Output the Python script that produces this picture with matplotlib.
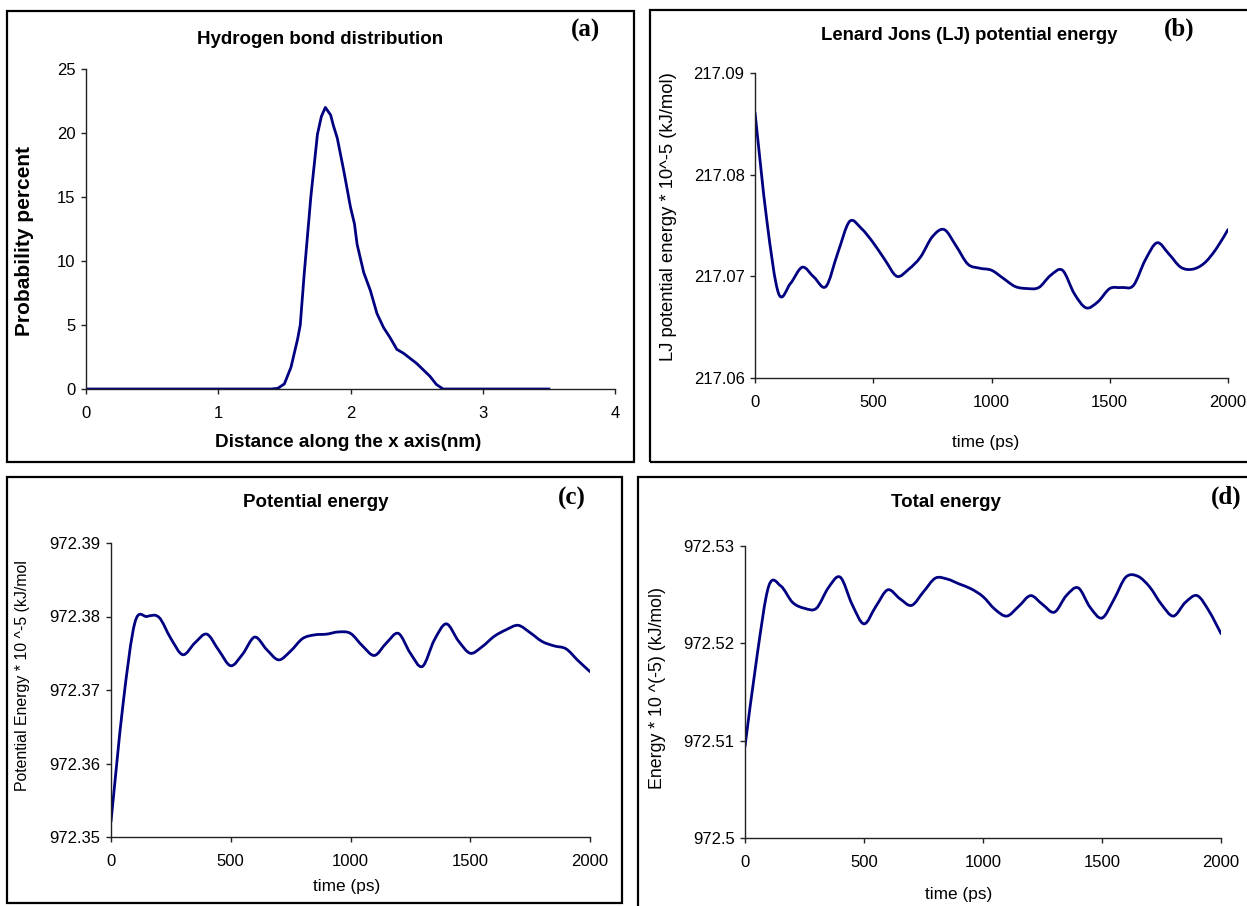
import numpy as np
import matplotlib
matplotlib.use('Agg')
import matplotlib.pyplot as plt
from matplotlib.patches import Rectangle, PathPatch
from matplotlib.path import Path

plt.rcParams['font.family'] = ['Liberation Sans', 'DejaVu Sans']

# (a) hydrogen bond distribution
dist_x = [0, 0.5, 1.0, 1.4, 1.45, 1.5, 1.55, 1.6, 1.62, 1.65, 1.7, 1.75, 1.78, 1.81, 1.85,
          1.87, 1.9, 1.95, 2.0, 2.03, 2.05, 2.1, 2.15, 2.2, 2.25, 2.3, 2.35, 2.4, 2.45,
          2.5, 2.55, 2.6, 2.65, 2.7, 2.75, 3.0, 3.5]
dist_p = [0, 0, 0, 0, 0.05, 0.4, 1.7, 3.9, 5.0, 9.0, 15.0, 19.9, 21.3, 22.0, 21.4,
          20.6, 19.6, 17.0, 14.2, 12.9, 11.3, 9.1, 7.7, 5.9, 4.8, 4.0, 3.1, 2.8, 2.4,
          2.0, 1.5, 1.0, 0.35, 0, 0, 0, 0]

# time axis for (b), (c), (d)
t = list(range(0, 2001, 50))

lj = [217.0861, 217.0755, 217.0683, 217.0693, 217.0709, 217.0699, 217.0690, 217.0723,
      217.0754, 217.0747, 217.0733, 217.0716, 217.0700, 217.0707, 217.0719, 217.0739,
      217.0746, 217.0730, 217.0712, 217.0708, 217.0706, 217.0698, 217.0690, 217.0688,
      217.0689, 217.0701, 217.0706, 217.0683, 217.0669, 217.0675, 217.0688, 217.0689,
      217.0691, 217.0716, 217.0733, 217.0722, 217.0709, 217.0707, 217.0713, 217.0727,
      217.0746]

pot = [972.3521, 972.3680, 972.3792, 972.3800, 972.3799, 972.3770, 972.3748, 972.3764,
       972.3776, 972.3754, 972.3733, 972.3749, 972.3772, 972.3755, 972.3741, 972.3753,
       972.3770, 972.3775, 972.3776, 972.3779, 972.3777, 972.3760, 972.3747, 972.3764,
       972.3777, 972.3750, 972.3732, 972.3768, 972.3790, 972.3767, 972.3750, 972.3759,
       972.3773, 972.3782, 972.3788, 972.3778, 972.3766, 972.3760, 972.3756, 972.3740,
       972.3725]

tot = [972.5094, 972.5186, 972.5259, 972.5259, 972.5242, 972.5236, 972.5236, 972.5257,
       972.5268, 972.5240, 972.5220, 972.5238, 972.5255, 972.5246, 972.5239, 972.5253,
       972.5267, 972.5266, 972.5261, 972.5256, 972.5248, 972.5235, 972.5228, 972.5238,
       972.5249, 972.5240, 972.5232, 972.5249, 972.5257, 972.5237, 972.5226, 972.5245,
       972.5268, 972.5269, 972.5258, 972.5240, 972.5228, 972.5242, 972.5249, 972.5233,
       972.5210]

a_yticks = [0, 5, 10, 15, 20, 25]
a_xticks = [0, 1, 2, 3, 4]
b_yticks = [217.06, 217.07, 217.08, 217.09]
b_ylabels = ['217.06', '217.07', '217.08', '217.09']
c_yticks = [972.35, 972.36, 972.37, 972.38, 972.39]
c_ylabels = ['972.35', '972.36', '972.37', '972.38', '972.39']
d_yticks = [972.50, 972.51, 972.52, 972.53]
d_ylabels = ['972.5', '972.51', '972.52', '972.53']
t_ticks = [0, 500, 1000, 1500, 2000]

W, H = 1247, 906
fig = plt.figure(figsize=(W / 100, H / 100), dpi=100)

def px_axes(l, r, top, bot):
    return fig.add_axes([l / W, 1 - bot / H, (r - l) / W, (bot - top) / H])

def ftext(x, y, s, **kw):
    fig.text(x / W, 1 - y / H, s, ha='center', va='center', **kw)

def box(l, top, r, bot):
    fig.add_artist(Rectangle((l / W, 1 - bot / H), (r - l) / W, (bot - top) / H,
                             transform=fig.transFigure, fill=False, ec='black', lw=1.6))

def style(ax):
    for s in ['top', 'right']:
        ax.spines[s].set_visible(False)
    for s in ['left', 'bottom']:
        ax.spines[s].set_color('#222222')
        ax.spines[s].set_linewidth(1.0)
    ax.tick_params(direction='out', length=3.5, width=1, color='#222222', labelsize=12)
    ax.tick_params(axis='x', pad=8.5)
    ax.tick_params(axis='y', pad=4)

def smooth_line(ax, x, y, color, lw):
    # Excel-style smoothed line: Catmull-Rom segments drawn as cubic Bezier curves
    # (done in display space so both axes are scaled alike)
    ax.set_xlim(ax.get_xlim())
    ax.set_ylim(ax.get_ylim())
    pts = ax.transData.transform(np.column_stack([x, y]))
    n = len(pts)
    verts = [pts[0]]
    codes = [Path.MOVETO]
    for i in range(n - 1):
        p0 = pts[max(i - 1, 0)]
        p1 = pts[i]
        p2 = pts[i + 1]
        p3 = pts[min(i + 2, n - 1)]
        c1 = p1 + (p2 - p0) / 6.0
        c2 = p2 - (p3 - p1) / 6.0
        verts += [c1, c2, p2]
        codes += [Path.CURVE4] * 3
    verts = ax.transData.inverted().transform(np.array(verts))
    ax.add_patch(PathPatch(Path(verts, codes), fill=False, ec=color, lw=lw,
                           capstyle='round', joinstyle='round'))

line_color = '#000080'

# panel boxes
box(7, 11, 634, 462)
box(650, 10, 1260, 462)
box(7, 477, 622, 903)
box(638, 477, 1260, 920)

# (a)
ax = px_axes(86, 615, 69, 389)
ax.plot(dist_x, dist_p, color=line_color, lw=2.0, solid_joinstyle='round')
ax.set_xlim(0, 4)
ax.set_ylim(0, 25)
ax.set_xticks(a_xticks)
ax.set_yticks(a_yticks)
style(ax)
ftext(320, 40, 'Hydrogen bond distribution', fontsize=13.5, fontweight='bold')
ftext(348, 443, 'Distance along the x axis(nm)', fontsize=13.6, fontweight='bold')
ftext(25, 241, 'Probability percent', fontsize=15, fontweight='bold', rotation=90)
ftext(585, 30, '(a)', fontsize=18, fontweight='bold', family='Liberation Serif')

# (b)
ax = px_axes(755, 1228, 73, 378)
ax.set_xlim(0, 2000)
ax.set_ylim(217.06, 217.09)
smooth_line(ax, t, lj, line_color, 2.0)
ax.set_xticks(t_ticks)
ax.set_yticks(b_yticks)
ax.set_yticklabels(b_ylabels)
style(ax)
ftext(969, 35, 'Lenard Jons (LJ) potential energy', fontsize=13.3, fontweight='bold')
ftext(986, 443, 'time (ps)', fontsize=12.4)
ftext(668, 217, 'LJ potential energy * 10^-5 (kJ/mol)', fontsize=13.2, rotation=90)
ftext(1179, 29, '(b)', fontsize=18, fontweight='bold', family='Liberation Serif')

# (c)
ax = px_axes(111, 590, 543, 837)
ax.set_xlim(0, 2000)
ax.set_ylim(972.35, 972.39)
smooth_line(ax, t, pot, line_color, 2.0)
ax.set_xticks(t_ticks)
ax.set_yticks(c_yticks)
ax.set_yticklabels(c_ylabels)
style(ax)
ftext(316, 502, 'Potential energy', fontsize=13.5, fontweight='bold')
ftext(347, 887, 'time (ps)', fontsize=12.4)
ftext(23, 676, 'Potential Energy * 10 ^-5 (kJ/mol', fontsize=11.4, rotation=90)
ftext(572, 498, '(c)', fontsize=18, fontweight='bold', family='Liberation Serif')

# (d)
ax = px_axes(745, 1221, 546, 838)
ax.set_xlim(0, 2000)
ax.set_ylim(972.50, 972.53)
smooth_line(ax, t, tot, line_color, 2.0)
ax.set_xticks(t_ticks)
ax.set_yticks(d_yticks)
ax.set_yticklabels(d_ylabels)
style(ax)
ftext(946, 502, 'Total energy', fontsize=13.5, fontweight='bold')
ftext(959, 894, 'time (ps)', fontsize=12.4)
ftext(658, 688, 'Energy * 10 ^(-5) (kJ/mol)', fontsize=12.8, rotation=90)
ftext(1226, 497, '(d)', fontsize=18, fontweight='bold', family='Liberation Serif')

fig.savefig('out.png', dpi=100)
